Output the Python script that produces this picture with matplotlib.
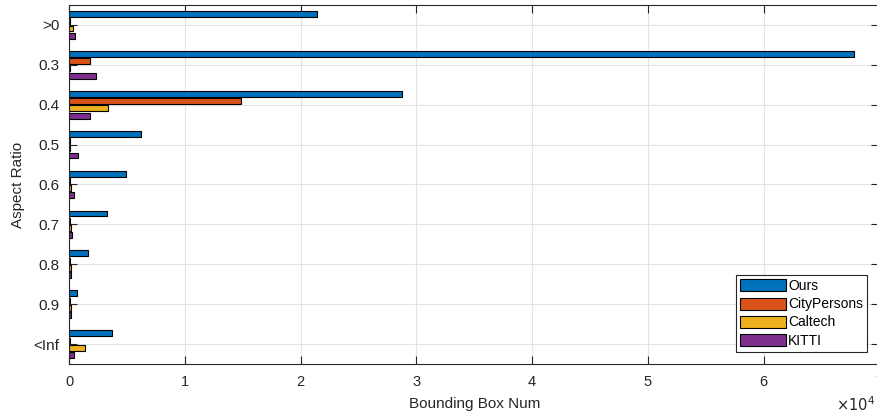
#!/usr/bin/env python3

import numpy as np
import matplotlib.pyplot as plt

plt.rcParams['font.family'] = ['Liberation Sans', 'DejaVu Sans']

categories = [">0", "0.3", "0.4", "0.5", "0.6", "0.7", "0.8", "0.9", "<Inf"]
series_names = ["Ours", "CityPersons", "Caltech", "KITTI"]

ours = [21390, 67780, 28790, 6200, 4870, 3230, 1590, 640, 3690]
citypersons = [30, 1760, 14820, 30, 30, 20, 20, 20, 30]
caltech = [350, 20, 3370, 20, 150, 170, 170, 150, 1330]
kitti = [520, 2280, 1760, 750, 430, 200, 170, 150, 380]

colors = ["#0072BD", "#D95319", "#EDB120", "#7E2F8E"]
dark = "#262626"

fig = plt.figure(figsize=(8.78, 4.15), dpi=100)
ax = fig.add_axes([69.3 / 878, 1 - 364 / 415, 810 / 878, 359 / 415])

y = np.arange(1, len(categories) + 1)
group_w = min(0.8, 4 / (4 + 1.5))
step = group_w / 4
offsets = (np.arange(4) - 1.5) * step
data = [ours, citypersons, caltech, kitti]
for idx, vals in enumerate(data):
    ax.barh(y + offsets[idx], vals, height=step * 0.8, color=colors[idx],
            edgecolor="black", linewidth=0.8, label=series_names[idx], zorder=2)

ax.set_xlim(0, 70000)
ax.set_ylim(9.5, 0.5)
ax.set_yticks(y, categories)
ax.set_xticks(np.arange(0, 70001, 10000), [str(i) for i in range(8)])
ax.set_axisbelow(True)
ax.grid(True, color="#e3e3e3", linewidth=0.8)
ax.tick_params(axis='both', direction='in', length=6, width=0.8, color=dark,
               labelcolor=dark, top=True, right=True)
ax.tick_params(axis='x', pad=8, labelsize=10.5)
ax.tick_params(axis='y', pad=7, labelsize=11)
for s in ax.spines.values():
    s.set_color(dark)
    s.set_linewidth(0.8)

ax.set_xlabel("Bounding Box Num", fontsize=11, color=dark, labelpad=6)
ax.set_ylabel("Aspect Ratio", fontsize=11, color=dark, labelpad=6)
fig.text(0.997, 1 - 405 / 415, r"$\times10^{4}$", ha='right', va='center',
         fontsize=10.5, color=dark)

leg = ax.legend(loc='lower right', bbox_to_anchor=(0.985, 0.034), borderaxespad=0,
                fontsize=10, fancybox=False, edgecolor=dark, framealpha=1,
                handlelength=3.3, handleheight=0.95, handletextpad=0.15,
                labelspacing=0.3, borderpad=0.3)
leg.get_frame().set_linewidth(0.8)

fig.savefig("out.png", dpi=100)
